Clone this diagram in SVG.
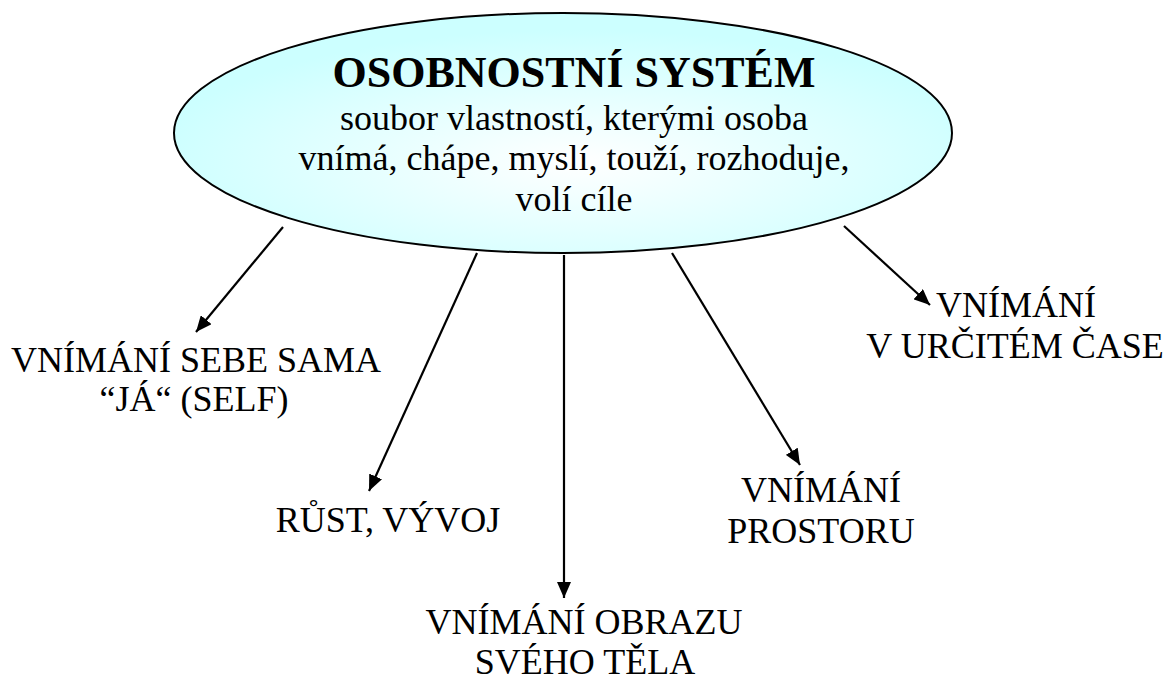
<svg xmlns="http://www.w3.org/2000/svg" width="1169" height="682" viewBox="0 0 1169 682">
  <style>
    text { font-family: 'Liberation Serif', 'Times New Roman', Tinos, 'DejaVu Serif', serif; fill: #000; text-anchor: middle; }
    .lbl { font-size: 36px; }
    .title { font-size: 44px; font-weight: bold; }
    .edge { stroke: #000; stroke-width: 2.2; fill: none; marker-end: url(#arrow); }
  </style>
  <defs>
    <radialGradient id="centerFill" cx="0.52" cy="0.62" r="0.55">
      <stop offset="0" stop-color="#ffffff"/>
      <stop offset="1" stop-color="#ccffff"/>
    </radialGradient>
    <marker id="arrow" viewBox="0 0 16 14" refX="16" refY="7" markerWidth="16" markerHeight="14" markerUnits="userSpaceOnUse" orient="auto">
      <path d="M0,0 L16,7 L0,14 z" fill="#000"/>
    </marker>
  </defs>

  <rect width="1169" height="682" fill="#ffffff"/>

  <g id="connectors">
    <line class="edge" x1="283" y1="227" x2="196" y2="332"/>
    <line class="edge" x1="477" y1="253" x2="369" y2="491"/>
    <line class="edge" x1="564" y1="255" x2="564" y2="598"/>
    <line class="edge" x1="672" y1="253" x2="800" y2="465"/>
    <line class="edge" x1="844" y1="226" x2="930" y2="305"/>
  </g>

  <g id="osobnostni-system">
    <ellipse cx="563" cy="133" rx="389" ry="120" fill="url(#centerFill)" stroke="#000" stroke-width="2"/>
    <text class="title" x="574" y="87">OSOBNOSTNÍ SYSTÉM</text>
    <text class="lbl" x="574" y="130">soubor vlastností, kterými osoba</text>
    <text class="lbl" x="574" y="170">vnímá, chápe, myslí, touží, rozhoduje,</text>
    <text class="lbl" x="574" y="211">volí cíle</text>
  </g>

  <g id="vnimani-sebe">
    <text class="lbl" x="196" y="372">VNÍMÁNÍ SEBE SAMA</text>
    <text class="lbl" x="194" y="411">“JÁ“ (SELF)</text>
  </g>

  <g id="rust-vyvoj">
    <text class="lbl" x="388" y="532">RŮST, VÝVOJ</text>
  </g>

  <g id="vnimani-obrazu-tela">
    <text class="lbl" x="584" y="634">VNÍMÁNÍ OBRAZU</text>
    <text class="lbl" x="585" y="674">SVÉHO TĚLA</text>
  </g>

  <g id="vnimani-prostoru">
    <text class="lbl" x="821" y="502">VNÍMÁNÍ</text>
    <text class="lbl" x="821" y="543">PROSTORU</text>
  </g>

  <g id="vnimani-casu">
    <text class="lbl" x="1016" y="317">VNÍMÁNÍ</text>
    <text class="lbl" x="1015" y="358">V URČITÉM ČASE</text>
  </g>
</svg>
